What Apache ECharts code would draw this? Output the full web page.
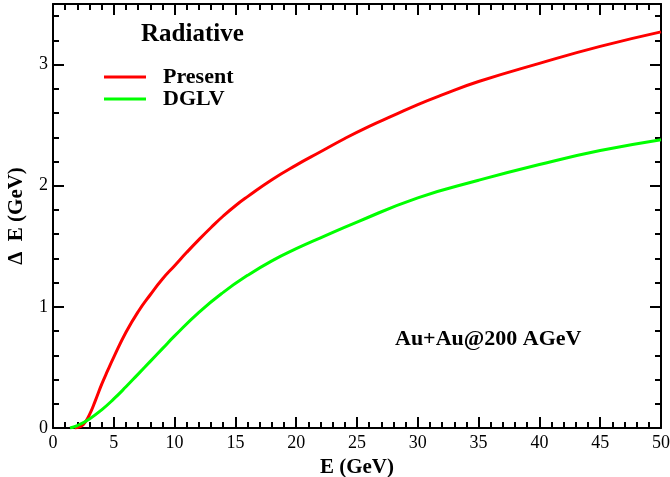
<!DOCTYPE html>
<html>
<head>
<meta charset="utf-8">
<script src="https://cdn.jsdelivr.net/npm/echarts@6/dist/echarts.min.js"></script>
<style>
  html, body { margin: 0; padding: 0; background: #fff; }
  #chart { width: 670px; height: 477px; }
</style>
</head>
<body>
<div id="chart"></div>
<script>
// energy E (GeV) and radiative energy loss ΔE (GeV)
var presentE    = [1.8, 2, 2.5, 3, 3.5, 4, 4.5, 5, 6, 7, 8, 9, 10, 11, 12, 13, 14, 15, 16, 18, 20, 22, 24, 26, 28, 30, 32, 35, 40, 45, 50];
var presentLoss = [0, 0.003, 0.03, 0.11, 0.23, 0.36, 0.475, 0.585, 0.79, 0.96, 1.10, 1.23, 1.34, 1.45, 1.555, 1.655, 1.75, 1.835, 1.91, 2.05, 2.17, 2.28, 2.39, 2.49, 2.58, 2.67, 2.75, 2.86, 3.01, 3.15, 3.27];
var dglvE       = [1.4, 2, 3, 4, 5, 6, 7, 8, 9, 10, 12, 14, 16, 18, 20, 22, 25, 30, 35, 40, 45, 50];
var dglvLoss    = [0, 0.02, 0.075, 0.15, 0.24, 0.34, 0.445, 0.55, 0.655, 0.76, 0.955, 1.12, 1.26, 1.38, 1.48, 1.57, 1.70, 1.90, 2.045, 2.175, 2.29, 2.38];

var seriesNames = ['Present', 'DGLV'];
var seriesColors = ['#ff0000', '#00ff00'];

function pairs(xs, ys) {
    return xs.map(function (x, i) { return [x, ys[i]]; });
}

var serif = '"Liberation Serif", "DejaVu Serif", serif';
var black = '#000';

// one side of the box: line, inward major + minor ticks
// onZero off, otherwise top/right axes get pulled onto the zero line
function frameAxis(pos, max, step, extra) {
    var a = {
        type: 'value', min: 0, max: max, interval: step, position: pos,
        axisLine: { onZero: false, lineStyle: { color: black, width: 2 } },
        axisTick: { inside: true, length: 11, lineStyle: { color: black, width: 2 } },
        minorTick: { show: true, splitNumber: 5, length: 6, lineStyle: { color: black, width: 2 } },
        axisLabel: { show: false },
        splitLine: { show: false }
    };
    return Object.assign(a, extra || {});
}

var chart = echarts.init(document.getElementById('chart'));
chart.setOption({
    animation: false,
    backgroundColor: '#fff',
    textStyle: { fontFamily: serif },
    title: {
        text: 'Radiative',
        left: 141, top: 22, padding: 0,
        textStyle: { fontFamily: serif, fontSize: 25, fontWeight: 'bold', color: black }
    },
    legend: {
        data: seriesNames,
        orient: 'vertical',
        left: 104, top: 66, padding: 0,
        itemGap: 0,
        itemWidth: 42, itemHeight: 3,
        icon: 'rect',
        textStyle: { fontFamily: serif, fontSize: 22, fontWeight: 'bold', color: black, padding: [0, 0, 0, 12] }
    },
    grid: { left: 53, right: 9, top: 4, bottom: 49, outerBoundsMode: 'none', containLabel: false },
    xAxis: [
        frameAxis('bottom', 50, 5, {
            name: 'E (GeV)', nameLocation: 'middle', nameGap: 24,
            nameTextStyle: { fontFamily: serif, fontSize: 21, fontWeight: 'bold', color: black },
            axisLabel: { fontFamily: serif, fontSize: 18, color: black, margin: 6 }
        }),
        frameAxis('top', 50, 5)
    ],
    yAxis: [
        frameAxis('left', 3.5, 1, {
            name: 'Δ  E (GeV)', nameLocation: 'middle', nameGap: 26,
            nameTextStyle: { fontFamily: serif, fontSize: 21, fontWeight: 'bold', color: black },
            axisLabel: { fontFamily: serif, fontSize: 18, color: black, margin: 5, showMaxLabel: false }
        }),
        frameAxis('right', 3.5, 1)
    ],
    graphic: [{
        type: 'text', left: 395, top: 328,
        style: { text: 'Au+Au@200 AGeV', font: 'bold 22px ' + serif, fill: black }
    }],
    series: [{
        name: seriesNames[0], type: 'line', smooth: true, showSymbol: false,
        data: pairs(presentE, presentLoss),
        color: seriesColors[0], lineStyle: { width: 3 }
    }, {
        name: seriesNames[1], type: 'line', smooth: true, showSymbol: false,
        data: pairs(dglvE, dglvLoss),
        color: seriesColors[1], lineStyle: { width: 3 }
    }]
});
</script>
</body>
</html>
